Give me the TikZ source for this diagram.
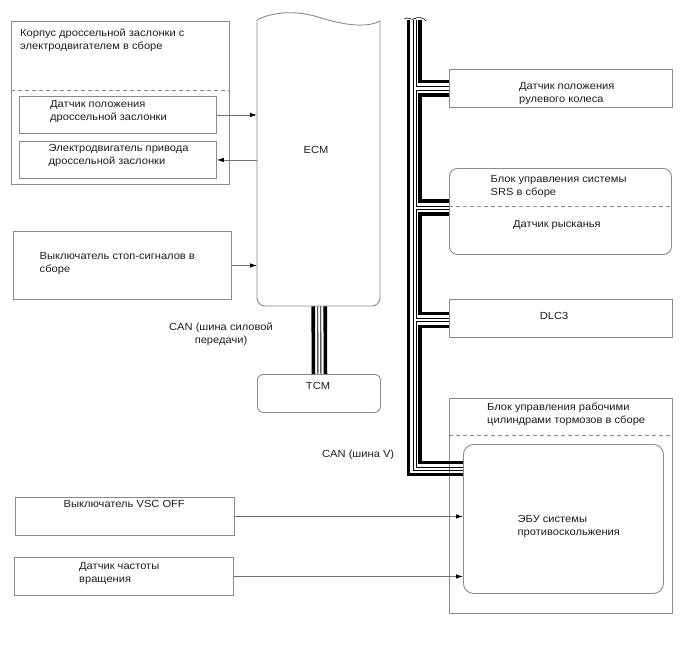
\documentclass[tikz,border=0pt]{standalone}
\usepackage{fontspec}
\setmainfont{Liberation Sans}[FakeStretch=1.08]
\usetikzlibrary{arrows.meta}
\definecolor{boxgray}{HTML}{8A8A8A}
\definecolor{arrgray}{HTML}{707070}
\definecolor{txt}{HTML}{1E1E1E}
\begin{document}
\begin{tikzpicture}[x=1pt,y=-1pt,
  box/.style={draw=boxgray,line width=0.9pt,inner sep=0pt,anchor=north west},
  lbl/.style={font=\fontsize{10.3}{13}\selectfont,text=txt,inner sep=0pt,anchor=north west,align=left},
  clbl/.style={font=\fontsize{10.3}{13}\selectfont,text=txt,inner sep=0pt},
  sepline/.style={draw=boxgray,line width=0.9pt,dash pattern=on 4pt off 3pt},
  sig/.style={draw=arrgray,line width=0.8pt,-{Latex[length=7pt,width=4.5pt,color=black,fill=black]}},
  busw/.style={draw=black,line width=3.6pt,line join=miter},
  busn/.style={draw=black,line width=0.9pt,line join=miter},
  buscap/.style={draw=black,line width=0.6pt}]
\useasboundingbox (0,0) rectangle (688,658);
\fill[white] (0,0) rectangle (688,658);

% throttle body assembly
\node[box,minimum width=218,minimum height=163] (thr) at (11,21) {};
\node[lbl] (thrt) at (20,28.5) {Корпус дроссельной заслонки с\\электродвигателем в сборе};
\draw[sepline] (thr.west |- 0,90) -- (thr.east |- 0,90);
\node[box,minimum width=197,minimum height=37] (tps) at (19,96) {};
\node[lbl] (tpst) at (50,100.5) {Датчик положения\\дроссельной заслонки};
\node[box,minimum width=197,minimum height=37] (mot) at (19,141) {};
\node[lbl] (mott) at (48.5,144) {Электродвигатель привода\\дроссельной заслонки};

% ECM
\node[inner sep=0pt,minimum width=123,minimum height=286,anchor=north west] (ecm) at (257,20) {};
\draw[boxgray,line width=0.9pt] (257,20) .. controls (272,12) and (295,10) .. (318,17) .. controls (340,24) and (365,29) .. (380,21) [rounded corners=8pt] -- (380,306) -- (257,306) -- (257,20);
\node[clbl] (ecmt) at (316,150) {ECM};

% brake light switch
\node[box,minimum width=218,minimum height=68] (bsw) at (13,231) {};
\node[lbl] (bswt) at (39.5,252.5) {Выключатель стоп-сигналов в\\сборе};

% CAN power train label
\node[clbl,align=center,anchor=north] (canp) at (221,323) {CAN (шина силовой\\передачи)};

% TCM
\node[box,rounded corners=6pt,minimum width=123,minimum height=38] (tcm) at (257,374) {};
\node[clbl] (tcmt) at (318,385.5) {TCM};

% right column
\node[box,minimum width=223,minimum height=38] (steer) at (449,69) {};
\node[lbl] (steert) at (519,82.5) {Датчик положения\\рулевого колеса};
\node[box,rounded corners=8pt,minimum width=222,minimum height=86] (srs) at (449,168) {};
\node[lbl] (srst) at (490.5,175) {Блок управления системы\\SRS в сборе};
\draw[sepline] (srs.west |- 0,206) -- (srs.east |- 0,206);
\node[lbl] (yawt) at (513,220.5) {Датчик рысканья};
\node[box,minimum width=223,minimum height=38] (dlc) at (449,299) {};
\node[clbl] (dlct) at (554,315.5) {DLC3};
\node[box,minimum width=223,minimum height=215] (act) at (449,398) {};
\node[lbl] (actt) at (487,402.5) {Блок управления рабочими\\цилиндрами тормозов в сборе};
\draw[sepline] (act.west |- 0,435) -- (act.east |- 0,435);
\node[box,rounded corners=10pt,minimum width=200,minimum height=149] (ecu) at (463,444) {};
\node[lbl] (ecut) at (517.5,515) {ЭБУ системы\\противоскольжения};
\node[lbl] (canv) at (322,449.5) {CAN (шина V)};

% left bottom
\node[box,minimum width=219,minimum height=38] (vsc) at (15,497) {};
\node[lbl] (vsct) at (63.5,500.5) {Выключатель VSC OFF};
\node[box,minimum width=219,minimum height=38] (spd) at (14,557) {};
\node[lbl] (spdt) at (79,562.5) {Датчик частоты\\вращения};

% signal arrows
\draw[sig] (tps.east) -- (tps.east -| ecm.west);
\draw[sig] (mot.east -| ecm.west) -- (mot.east);
\draw[sig] (bsw.east) -- (bsw.east -| ecm.west);
\draw[sig] (vsc.east) -- (vsc.east -| ecu.west);
\draw[sig] (spd.east) -- (spd.east -| ecu.west);

% ECM - TCM bus
\draw[busw] ([xshift=-5.5pt]ecm.south) -- ([xshift=-5.5pt]tcm.north);
\draw[busn] ([xshift=-1pt]ecm.south) -- ([xshift=-1pt]tcm.north);
\draw[busn] ([xshift=2pt]ecm.south) -- ([xshift=2pt]tcm.north);
\draw[busw] ([xshift=6.5pt]ecm.south) -- ([xshift=6.5pt]tcm.north);

% V bus: outer wire
\draw[busw] (408.5,20) -- (408.5,474.5) -- (ecu.west |- 0,474.5);
\draw[busn] (413,20) -- (413,470.5) -- (ecu.west |- 0,470.5);
% V bus: inner wire with branches
\draw[busw] (420,20) -- (420,81.5) -- (steer.west |- 0,81.5);
\draw[busn] (416,20) -- (416,86.5) -- (steer.west |- 0,86.5);
\draw[busn] (steer.west |- 0,90) -- (416,90) -- (416,206) -- (srs.west |- 0,206);
\draw[busw] (steer.west |- 0,95) -- (420,95) -- (420,201) -- (srs.west |- 0,201);
\draw[busn] (srs.west |- 0,209) -- (416,209) -- (416,318.5) -- (dlc.west |- 0,318.5);
\draw[busw] (srs.west |- 0,214) -- (420,214) -- (420,313.5) -- (dlc.west |- 0,313.5);
\draw[busn] (dlc.west |- 0,321.5) -- (416,321.5) -- (416,467) -- (ecu.west |- 0,467);
\draw[busw] (dlc.west |- 0,326.5) -- (420,326.5) -- (420,462.5) -- (ecu.west |- 0,462.5);
% break marks at top of bus
\draw[buscap] (404.5,19) .. controls (407.5,16) and (411,21) .. (415.5,18.5);
\draw[buscap] (414.5,18.5) .. controls (419,16.5) and (423.5,17.5) .. (426,21);
\end{tikzpicture}
\end{document}
